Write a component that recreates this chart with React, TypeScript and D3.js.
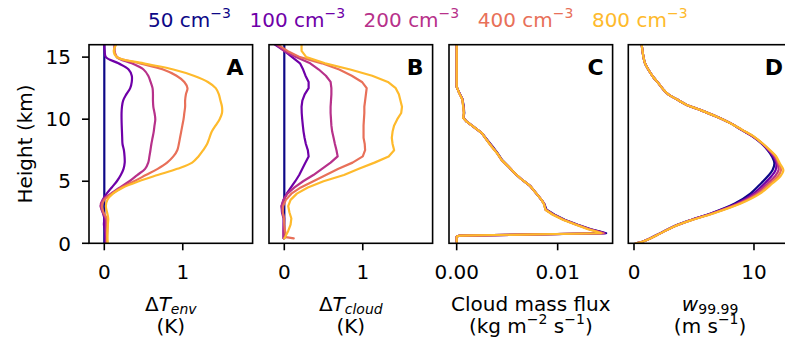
import React from 'react';
import * as d3 from 'd3';

// ---------- data ----------
const concentrations = ['50', '100', '200', '400', '800'];
const heightTicks = [0, 5, 10, 15];
const ticksEnv = [0, 1];
const ticksCloud = [0, 1];
const ticksFlux = [0, 0.01];
const ticksW = [0, 10];

// Panel A: environmental temperature difference (K)
const heightsEnv = [16, 15.5, 15, 14.5, 14, 13.5, 13, 12.5, 12, 11.5, 11, 10.5, 10, 9.5, 9, 8.5, 8, 7.5, 7, 6.5, 6, 5.5, 5, 4.5, 4, 3.5, 3, 2.5, 2, 1.5, 1, 0.5, 0];
const envT50 = [0, 0, 0, 0, 0, 0, 0, 0, 0, 0, 0, 0, 0, 0, 0, 0, 0, 0, 0, 0, 0, 0, 0, 0, 0, 0, 0, 0, 0, 0, 0, 0, 0];
const envT100 = [0, 0.005, 0.02, 0.18, 0.31, 0.35, 0.35, 0.33, 0.28, 0.24, 0.225, 0.22, 0.22, 0.222, 0.225, 0.228, 0.232, 0.25, 0.258, 0.26, 0.245, 0.21, 0.16, 0.095, 0.03, -0.02, -0.045, -0.02, 0.0, -0.005, 0.01, 0.01, 0.015];
const envT200 = [0.13, 0.13, 0.16, 0.35, 0.5, 0.56, 0.59, 0.615, 0.62, 0.62, 0.625, 0.64, 0.65, 0.64, 0.63, 0.615, 0.6, 0.588, 0.575, 0.56, 0.52, 0.42, 0.32, 0.2, 0.085, -0.02, -0.047, -0.02, 0.015, 0.02, 0.02, 0.025, 0.03];
const envT400 = [0.14, 0.13, 0.16, 0.455, 0.75, 0.92, 1.02, 1.06, 1.04, 1.03, 1.03, 1.02, 1.01, 0.995, 0.98, 0.965, 0.95, 0.93, 0.88, 0.8, 0.68, 0.53, 0.38, 0.22, 0.1, 0.0, -0.03, -0.01, 0.03, 0.04, 0.04, 0.035, 0.03];
const envT800 = [0.15, 0.12, 0.16, 0.5, 0.88, 1.14, 1.32, 1.42, 1.46, 1.48, 1.5, 1.5, 1.47, 1.42, 1.37, 1.34, 1.31, 1.26, 1.2, 1.12, 0.93, 0.68, 0.44, 0.24, 0.11, 0.04, 0.02, 0.035, 0.05, 0.045, 0.04, 0.04, 0.045];

// Panel B: in-cloud temperature difference (K)
const heightsCloud = [16, 15.5, 15, 14.5, 14, 13.5, 13, 12.5, 12, 11.5, 11, 10.5, 10, 9.5, 9, 8.5, 8, 7.5, 7, 6.5, 6, 5.5, 5, 4.5, 4, 3.5, 3, 2.5, 2, 1.5, 1, 0.5, 0.4];
const cloudT50 = [0, 0, 0, 0, 0, 0, 0, 0, 0, 0, 0, 0, 0, 0, 0, 0, 0, 0, 0, 0, 0, 0, 0, 0, 0, 0, 0, 0, 0, 0, 0, 0, 0];
const cloudT100 = [-0.12, 0.0, 0.1, 0.2, 0.24, 0.27, 0.31, 0.31, 0.26, 0.23, 0.22, 0.222, 0.228, 0.236, 0.245, 0.258, 0.275, 0.3, 0.31, 0.27, 0.23, 0.19, 0.14, 0.085, 0.03, -0.01, -0.035, -0.03, -0.01, -0.01, -0.01, -0.01, -0.01];
const cloudT200 = [-0.1, 0.0, 0.15, 0.33, 0.44, 0.53, 0.59, 0.6, 0.6, 0.595, 0.59, 0.59, 0.595, 0.6, 0.61, 0.628, 0.645, 0.665, 0.68, 0.59, 0.48, 0.37, 0.24, 0.13, 0.04, -0.01, -0.035, -0.02, 0.0, -0.005, -0.01, -0.01, -0.01];
const cloudT400 = [-0.08, 0.04, 0.2, 0.48, 0.7, 0.86, 0.99, 1.05, 1.04, 1.03, 1.02, 1.02, 1.015, 1.01, 1.01, 1.01, 1.025, 1.03, 1.0, 0.87, 0.69, 0.53, 0.37, 0.21, 0.09, 0.02, -0.015, -0.02, -0.005, 0.0, 0.01, 0.02, 0.12];
const cloudT800 = [0.22, 0.22, 0.28, 0.52, 0.84, 1.12, 1.32, 1.42, 1.46, 1.48, 1.5, 1.49, 1.44, 1.4, 1.38, 1.37, 1.38, 1.4, 1.33, 1.15, 0.95, 0.76, 0.5, 0.3, 0.16, 0.08, 0.05, 0.065, 0.09, 0.08, 0.05, 0.01, 0.0];

// Panel C: cloud mass flux (kg m-2 s-1)
const heightsFlux = [16, 14, 12.6, 12.1, 11.6, 11.0, 10.5, 10.1, 9.8, 9.4, 8.87, 8.3, 7.8, 7.26, 6.7, 6.2, 5.6, 5.1, 4.6, 4.0, 3.5, 3.17, 2.7, 2.3, 1.9, 1.5, 1.13, 0.95, 0.81, 0.62, 0.55, 0.1];
const flux50 = [0, 0, 0, 0.00027, 0.00058, 0.0007, 0.00075, 0.00068, 0.001, 0.00165, 0.0025, 0.00305, 0.00355, 0.00405, 0.0045, 0.0051, 0.0058, 0.0065, 0.0073, 0.0079, 0.0084, 0.00868, 0.0089, 0.0097, 0.0107, 0.012, 0.0133, 0.0142, 0.0148, 0.0003, 0.0, 0.0];
const flux100 = [0, 0, 0, 0.00026, 0.00057, 0.00068, 0.00073, 0.00067, 0.001, 0.00165, 0.0025, 0.00302, 0.0035, 0.00402, 0.00448, 0.0051, 0.0058, 0.0065, 0.0073, 0.0079, 0.0084, 0.00866, 0.00885, 0.0096, 0.0106, 0.0119, 0.0132, 0.0141, 0.0147, 0.0003, 0.0, 0.0];
const flux200 = [0, 0, 0, 0.00026, 0.00056, 0.00066, 0.00072, 0.00066, 0.001, 0.00165, 0.0025, 0.003, 0.00347, 0.004, 0.00446, 0.0051, 0.0058, 0.0065, 0.0073, 0.0079, 0.0084, 0.00865, 0.0088, 0.0096, 0.0106, 0.0119, 0.0132, 0.014, 0.0146, 0.0003, 0.0, 0.0];
const flux400 = [0, 0, 0, 0.00026, 0.00056, 0.00066, 0.00072, 0.00066, 0.001, 0.00165, 0.0025, 0.003, 0.00347, 0.004, 0.00446, 0.0051, 0.0058, 0.0065, 0.0073, 0.0079, 0.0084, 0.00865, 0.0088, 0.0096, 0.0106, 0.0119, 0.0131, 0.0139, 0.0145, 0.0003, 0.0, 0.0];
const flux800 = [0, 0, 0, 0.00025, 0.00055, 0.00065, 0.0007, 0.00065, 0.001, 0.00165, 0.0025, 0.003, 0.00345, 0.004, 0.00446, 0.0051, 0.0058, 0.0065, 0.0073, 0.0079, 0.0084, 0.00863, 0.0088, 0.0095, 0.0105, 0.0118, 0.013, 0.0138, 0.0143, 0.0003, 0.0, 0.0];

// Panel D: 99.99th percentile updraft (m s-1)
const heightsW = [16, 15.05, 14.5, 14.0, 13.4, 12.9, 12.4, 12.0, 11.6, 11.15, 10.75, 10.2, 9.7, 9.14, 8.6, 8.06, 7.5, 7.0, 6.45, 5.9, 5.4, 4.84, 4.0, 3.2, 2.4, 1.9, 1.34, 0.8, 0.4, 0.13, 0];
const w50 = [0.64, 0.78, 0.92, 1.19, 1.6, 2.03, 2.44, 2.86, 3.56, 4.4, 5.5, 6.9, 8.0, 8.95, 9.9, 10.6, 11.15, 11.5, 11.7, 11.55, 11.15, 10.6, 9.7, 8.4, 6.4, 4.8, 3.25, 2.15, 1.35, 0.7, 0.15];
const w100 = [0.64, 0.78, 0.92, 1.19, 1.6, 2.03, 2.44, 2.86, 3.56, 4.4, 5.5, 6.9, 8.0, 8.97, 9.92, 10.63, 11.2, 11.6, 11.85, 11.8, 11.45, 10.9, 9.95, 8.55, 6.45, 4.82, 3.27, 2.17, 1.37, 0.7, 0.15];
const w200 = [0.64, 0.78, 0.92, 1.19, 1.6, 2.03, 2.44, 2.86, 3.56, 4.4, 5.5, 6.9, 8.0, 9.0, 9.95, 10.66, 11.25, 11.7, 11.95, 12.05, 11.75, 11.15, 10.15, 8.7, 6.5, 4.85, 3.28, 2.18, 1.38, 0.7, 0.15];
const w400 = [0.64, 0.78, 0.92, 1.19, 1.6, 2.03, 2.44, 2.86, 3.56, 4.4, 5.5, 6.9, 8.0, 9.0, 9.97, 10.68, 11.3, 11.8, 12.05, 12.25, 12.0, 11.35, 10.35, 8.8, 6.55, 4.88, 3.3, 2.2, 1.4, 0.7, 0.15];
const w800 = [0.64, 0.78, 0.92, 1.19, 1.6, 2.03, 2.44, 2.86, 3.56, 4.4, 5.5, 6.9, 8.0, 9.02, 10.0, 10.7, 11.35, 11.85, 12.15, 12.45, 12.2, 11.55, 10.5, 8.9, 6.6, 4.9, 3.3, 2.2, 1.4, 0.7, 0.15];

// ---------- layout ----------
const W = 785;
const H = 349;
const FONT = 'DejaVu Sans, sans-serif';
const PANEL_TOP = 44.7;
const PANEL_BOTTOM = 243.3;
const PANEL_W = 163.6;
const colorStops = [0, 0.2125, 0.425, 0.6375, 0.85];
const colors = colorStops.map((t) => d3.interpolatePlasma(t));

type Panel = {
  left: number;
  domain: [number, number];
  ticks: number[];
  fmt: (v: number) => string;
  letter: string;
  heights: number[];
  series: number[][];
  curve: any;
};

const panels: Panel[] = [
  { left: 89, domain: [-0.195, 1.89], ticks: ticksEnv, fmt: d3.format('d'), letter: 'A', heights: heightsEnv, series: [envT50, envT100, envT200, envT400, envT800], curve: d3.curveCatmullRom },
  { left: 269, domain: [-0.195, 1.89], ticks: ticksCloud, fmt: d3.format('d'), letter: 'B', heights: heightsCloud, series: [cloudT50, cloudT100, cloudT200, cloudT400, cloudT800], curve: d3.curveLinear },
  { left: 449, domain: [-0.00076, 0.01544], ticks: ticksFlux, fmt: d3.format('.2f'), letter: 'C', heights: heightsFlux, series: [flux50, flux100, flux200, flux400, flux800], curve: d3.curveLinear },
  { left: 628.3, domain: [-0.475, 13.16], ticks: ticksW, fmt: d3.format('d'), letter: 'D', heights: heightsW, series: [w50, w100, w200, w400, w800], curve: d3.curveCatmullRom },
];

const yScale = d3.scaleLinear().domain([0, 16]).range([PANEL_BOTTOM, PANEL_TOP]);

function PanelView({ p, idx }: { p: Panel; idx: number }) {
  const x = d3.scaleLinear().domain(p.domain).range([p.left, p.left + PANEL_W]);
  const line = d3
    .line<[number, number]>()
    .x((d) => x(d[0]))
    .y((d) => yScale(d[1]))
    .curve(p.curve);
  const clipId = `clip-${idx}`;
  return (
    <g>
      <defs>
        <clipPath id={clipId}>
          <rect x={p.left} y={PANEL_TOP} width={PANEL_W} height={PANEL_BOTTOM - PANEL_TOP} />
        </clipPath>
      </defs>
      <g clipPath={`url(#${clipId})`}>
        {p.series.map((vals, i) => (
          <path
            key={i}
            d={line(vals.map((v, j) => [v, p.heights[j]] as [number, number])) || ''}
            fill="none"
            stroke={colors[i]}
            strokeWidth={2.2}
            strokeLinejoin="round"
            strokeLinecap="round"
          />
        ))}
      </g>
      <rect
        x={p.left}
        y={PANEL_TOP}
        width={PANEL_W}
        height={PANEL_BOTTOM - PANEL_TOP}
        fill="none"
        stroke="#000"
        strokeWidth={1.6}
      />
      {p.ticks.map((t) => (
        <g key={t}>
          <line x1={x(t)} x2={x(t)} y1={PANEL_BOTTOM} y2={PANEL_BOTTOM + 7} stroke="#000" strokeWidth={1.6} />
          <text x={x(t)} y={279} textAnchor="middle" fontSize={20} fontFamily={FONT} fill="#000">
            {p.fmt(t)}
          </text>
        </g>
      ))}
      <text
        x={p.left + PANEL_W - 9}
        y={PANEL_TOP + 30.5}
        textAnchor="end"
        fontSize={22}
        fontWeight="bold"
        fontFamily={FONT}
        fill="#000"
      >
        {p.letter}
      </text>
    </g>
  );
}

export default function App() {
  const cx = (i: number) => panels[i].left + PANEL_W / 2;
  const L1 = 311;
  const L2 = 333;
  return (
    <svg
      width={W}
      height={H}
      viewBox={`0 0 ${W} ${H}`}
      style={{ position: 'absolute', left: 0, top: 0, background: '#fff' }}
      fontFamily={FONT}
    >
      <rect x={0} y={0} width={W} height={H} fill="#fff" />
      {/* legend */}
      <text x={148} y={26.5} fontSize={20} fontFamily={FONT}>
        {concentrations.map((c, i) => (
          <React.Fragment key={c}>
            <tspan fill={colors[i]} dx={i === 0 ? 0 : 18.5} dy={i === 0 ? 0 : 9}>{`${c} cm`}</tspan>
            <tspan fill={colors[i]} fontSize={14} dy={-9}>{'\u22123'}</tspan>
          </React.Fragment>
        ))}
      </text>

      {panels.map((p, i) => (
        <PanelView key={p.letter} p={p} idx={i} />
      ))}

      {/* y axis on first panel */}
      {heightTicks.map((t) => (
        <g key={t}>
          <line x1={panels[0].left - 7} x2={panels[0].left} y1={yScale(t)} y2={yScale(t)} stroke="#000" strokeWidth={1.6} />
          <text x={panels[0].left - 18} y={yScale(t)} dy="0.36em" textAnchor="end" fontSize={20} fontFamily={FONT}>
            {t}
          </text>
        </g>
      ))}
      <text
        transform={`translate(32, ${(PANEL_TOP + PANEL_BOTTOM) / 2}) rotate(-90)`}
        textAnchor="middle"
        fontSize={20}
        fontFamily={FONT}
      >
        Height (km)
      </text>

      {/* x labels */}
      <text x={cx(0)} y={L1} textAnchor="middle" fontSize={20}>
        {'\u0394'}
        <tspan fontStyle="italic">T</tspan>
        <tspan fontStyle="italic" fontSize={14} dy={3}>env</tspan>
      </text>
      <text x={cx(0)} y={L2} textAnchor="middle" fontSize={20}>(K)</text>

      <text x={cx(1)} y={L1} textAnchor="middle" fontSize={20}>
        {'\u0394'}
        <tspan fontStyle="italic">T</tspan>
        <tspan fontStyle="italic" fontSize={14} dy={3}>cloud</tspan>
      </text>
      <text x={cx(1)} y={L2} textAnchor="middle" fontSize={20}>(K)</text>

      <text x={cx(2)} y={L1} textAnchor="middle" fontSize={20}>Cloud mass flux</text>
      <text x={cx(2)} y={L2} textAnchor="middle" fontSize={20}>
        (kg m<tspan fontSize={14} dy={-9}>{'\u22122'}</tspan>
        <tspan dy={9}> s</tspan>
        <tspan fontSize={14} dy={-9}>{'\u22121'}</tspan>
        <tspan dy={9}>)</tspan>
      </text>

      <text x={cx(3)} y={L1} textAnchor="middle" fontSize={20}>
        <tspan fontStyle="italic">w</tspan>
        <tspan fontSize={14} dy={3}>99.99</tspan>
      </text>
      <text x={cx(3)} y={L2} textAnchor="middle" fontSize={20}>
        (m s<tspan fontSize={14} dy={-9}>{'\u22121'}</tspan>
        <tspan dy={9}>)</tspan>
      </text>
    </svg>
  );
}
